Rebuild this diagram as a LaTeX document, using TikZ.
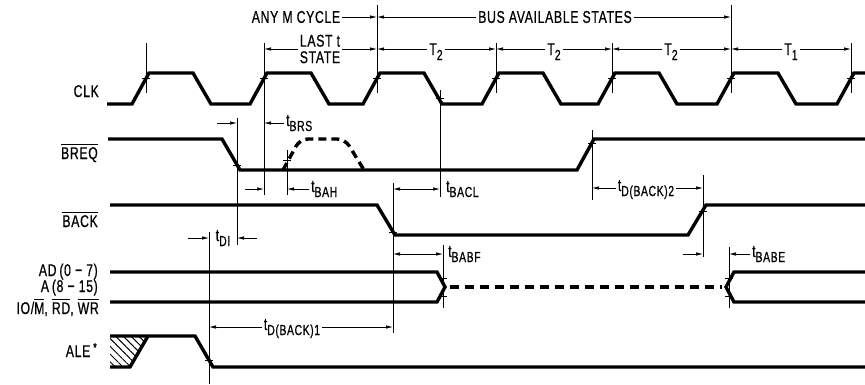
\documentclass[tikz,border=0pt]{standalone}
\usepackage{fontspec}
\setmainfont{Liberation Sans}[FakeStretch=0.72,LetterSpace=4,FakeBold=0.6]
\usetikzlibrary{arrows.meta,patterns.meta}

\newcommand\tsub[2]{#1\raisebox{-5pt}{\fontsize{14.5}{15}\selectfont #2}}
\newcommand\ovl[1]{\vbox{\hrule height 1.2pt\kern 2pt\hbox{#1}}}

\begin{document}
\begin{tikzpicture}[x=1pt,y=-1pt,
    wave/.style={line width=3.4pt},
    guide/.style={line width=0.7pt},
    dim/.style={line width=0.7pt,-{Latex[length=7pt,width=3.5pt]}},
    dimb/.style={line width=0.7pt,{Latex[length=7pt,width=3.5pt]}-{Latex[length=7pt,width=3.5pt]}},
    lbl/.style={inner sep=2pt,font=\fontsize{17}{15}\selectfont},
    signame/.style={inner sep=0pt,anchor=base east,font=\fontsize{17}{15}\selectfont}]

  \useasboundingbox (0,0) rectangle (865,384);

  % signal names
  \node[signame] (clk)  at (99,97)  {CLK};
  \node[signame] (breq) at (98,159) {\ovl{BREQ}};
  \node[signame] (back) at (98,227) {\ovl{BACK}};
  \node[signame] (ad)   at (98,276) {AD\,(0 − 7)};
  \node[signame] (a)    at (98,292) {A\,(8 − 15)};
  \node[signame] (iom)  at (99,314) {IO/\ovl{M}, \ovl{RD}, \ovl{WR}};
  \node[signame] (ale)  at (97,357) {ALE\,\raisebox{5pt}{\fontsize{13}{13}\selectfont *}};

  % waveforms
  \draw[wave] (107,104) \foreach \r in {132,250,363,482,598,717}
    { -- (\r,104) -- ({\r+17},73) -- ({\r+61},73) -- ({\r+79},104) }
    -- (837,104) -- (854,73) -- (865,73);

  \draw[wave] (108,139) -- (222,139) -- (240,170) -- (577,170) -- (594,139) -- (865,139);
  \draw[wave,dash pattern=on 8pt off 5pt,rounded corners=8pt]
    (283,170) -- (300,139) -- (345,139) -- (364,170);

  \draw[wave] (110,205) -- (377,205) -- (395,235) -- (688,235) -- (706,205) -- (865,205);

  \draw[wave] (110,272) -- (437,272) -- (445,287) -- (437,302) -- (110,302);
  \draw[wave,dash pattern=on 9pt off 6pt] (450,287) -- (722,287);
  \draw[wave] (865,272) -- (734,272) -- (726,287) -- (734,302) -- (865,302);

  \fill[pattern={Lines[angle=-45,distance=5.5pt,line width=1pt]}]
    (110,336) -- (148,336) -- (130,367) -- (110,367) -- cycle;
  \draw[wave] (110,336) -- (195,336) -- (213,367) -- (865,367);
  \draw[wave] (110,367) -- (130,367) -- (148,336);

  % guide lines and ticks
  \foreach \x/\a/\b in {146/43/93, 264/43/195, 377/5/93, 496/43/93, 612/43/93,
      731/5/93, 851/43/93, 440/90/197, 237/118/245, 209/232/384, 287/150/195,
      393/183/333, 443/245/308, 592/130/200, 703/175/257, 729/247/308}
    \draw[guide] (\x,\a) -- (\x,\b);
  \foreach \x/\y in {146/78.5, 264/78.5, 377/78.5, 496/78.5, 612/78.5, 731/78.5,
      851/78.5, 440/98, 237/165, 287/160, 592/143, 393/232, 703/211,
      443/278, 443/296, 729/278, 729/296, 209/360}
    \draw[guide] ({\x-4},\y) -- ({\x+4},\y);

  % cycle labels
  \coordinate (m0) at (377,17);
  \coordinate (m1) at (731,17);
  \node[lbl] (anym) at (296,17) {ANY M CYCLE};
  \node[lbl] (bus) at (555,17) {BUS AVAILABLE STATES};
  \draw[dim] (anym.east) -- (m0);
  \draw[dim] (bus.west) -- (m0);
  \draw[dim] (bus.east) -- (m1);

  \coordinate (s0) at (264,49);
  \coordinate (s1) at (377,49);
  \coordinate (s2) at (496,49);
  \coordinate (s3) at (612,49);
  \coordinate (s4) at (731,49);
  \coordinate (s5) at (851,49);
  \node[lbl,align=center,font=\fontsize{17}{16.5}\selectfont] (last) at (320,49) {LAST t\\STATE};
  \node[lbl,anchor=base] (t2a) at (436,55) {\tsub{T}{2}};
  \node[lbl,anchor=base] (t2b) at (554,55) {\tsub{T}{2}};
  \node[lbl,anchor=base] (t2c) at (671,55) {\tsub{T}{2}};
  \node[lbl,anchor=base] (t1)  at (791,55) {\tsub{T}{1}};
  \draw[dim] (last.west |- s0) -- (s0);
  \draw[dim] (last.east |- s1) -- (s1);
  \draw[dim] (t2a.west |- s1) -- (s1);
  \draw[dim] (t2a.east |- s2) -- (s2);
  \draw[dim] (t2b.west |- s2) -- (s2);
  \draw[dim] (t2b.east |- s3) -- (s3);
  \draw[dim] (t2c.west |- s3) -- (s3);
  \draw[dim] (t2c.east |- s4) -- (s4);
  \draw[dim] (t1.west |- s4) -- (s4);
  \draw[dim] (t1.east |- s5) -- (s5);

  % timing labels
  \coordinate (brsin) at (217,123);
  \coordinate (brs0) at (237,123);
  \coordinate (brs1) at (264,123);
  \node[lbl,anchor=base west] (brs) at (284,126) {\tsub{t}{BRS}};
  \draw[dim] (brsin) -- (brs0);
  \draw[dim] (brs.west |- brs1) -- (brs1);

  \coordinate (bahin) at (245,189);
  \coordinate (bah0) at (264,189);
  \coordinate (bah1) at (287,189);
  \node[lbl,anchor=base west] (bah) at (309,192) {\tsub{t}{BAH}};
  \draw[dim] (bahin) -- (bah0);
  \draw[dim] (bah.west |- bah1) -- (bah1);

  \coordinate (bacl0) at (393,189);
  \coordinate (bacl1) at (440,189);
  \node[lbl,anchor=base west] (bacl) at (444,192) {\tsub{t}{BACL}};
  \draw[dimb] (bacl0) -- (bacl1);

  \coordinate (dbk20) at (592,188);
  \coordinate (dbk21) at (703,188);
  \node[lbl,anchor=base] (dbk2) at (646,191) {\tsub{t}{D(BACK)2}};
  \draw[dim] (dbk2.west |- dbk20) -- (dbk20);
  \draw[dim] (dbk2.east |- dbk21) -- (dbk21);

  \coordinate (diin) at (188,238);
  \coordinate (di0) at (209,238);
  \coordinate (di1) at (237,238);
  \coordinate (diout) at (257,238);
  \node[lbl,anchor=base] (di) at (223,241) {\tsub{t}{DI}};
  \draw[dim] (diin) -- (di0);
  \draw[dim] (diout) -- (di1);

  \coordinate (babf0) at (393,254);
  \coordinate (babf1) at (443,254);
  \node[lbl,anchor=base west] (babf) at (446,257) {\tsub{t}{BABF}};
  \draw[dimb] (babf0) -- (babf1);

  \coordinate (babein) at (683,254);
  \coordinate (babe0) at (703,254);
  \coordinate (babe1) at (729,254);
  \node[lbl,anchor=base west] (babe) at (750,257) {\tsub{t}{BABE}};
  \draw[dim] (babein) -- (babe0);
  \draw[dim] (babe.west |- babe1) -- (babe1);

  \coordinate (dbk10) at (209,327);
  \coordinate (dbk11) at (393,327);
  \node[lbl,anchor=base] (dbk1) at (292,330) {\tsub{t}{D(BACK)1}};
  \draw[dim] (dbk1.west |- dbk10) -- (dbk10);
  \draw[dim] (dbk1.east |- dbk11) -- (dbk11);

\end{tikzpicture}
\end{document}
